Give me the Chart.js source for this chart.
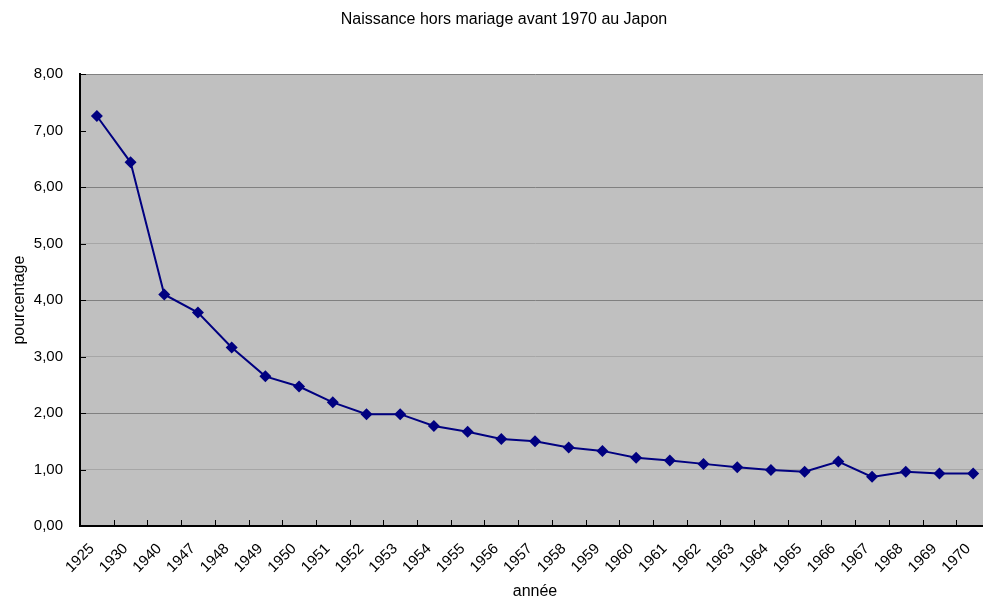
<!DOCTYPE html>
<html>
<head>
<meta charset="utf-8">
<title>Naissance hors mariage avant 1970 au Japon</title>
<script src="https://cdn.jsdelivr.net/npm/chart.js@4"></script>
<style>
  html, body { margin: 0; padding: 0; background: #fff; overflow: hidden; }
  #wrap { width: 1000px; height: 601px; }
</style>
</head>
<body>
<div id="wrap"><canvas id="chart" width="1000" height="601"></canvas></div>
<script>
const years = ['1925', '1930', '1940', '1947', '1948', '1949', '1950', '1951', '1952', '1953',
    '1954', '1955', '1956', '1957', '1958', '1959', '1960', '1961', '1962', '1963',
    '1964', '1965', '1966', '1967', '1968', '1969', '1970'];
const pourcentage = [7.26, 6.44, 4.10, 3.78, 3.16, 2.65, 2.47, 2.19, 1.98, 1.98,
    1.77, 1.67, 1.54, 1.50, 1.39, 1.33, 1.21, 1.16, 1.10, 1.04,
    0.99, 0.96, 1.14, 0.87, 0.96, 0.93, 0.93];
const yTicks = [0, 1, 2, 3, 4, 5, 6, 7, 8];

const font = 'Arial, "Liberation Sans", sans-serif';

// grey plot area, like the spreadsheet default
const plotBg = {
    id: 'plotBg',
    beforeDraw(chart) {
        const a = chart.chartArea;
        const ctx = chart.ctx;
        ctx.save();
        ctx.fillStyle = '#c0c0c0';
        ctx.fillRect(a.left, a.top, a.right - a.left, a.bottom - a.top);
        ctx.restore();
    }
};

// small tick marks pointing into the plot
const innerTicks = {
    id: 'innerTicks',
    afterDraw(chart) {
        const ctx = chart.ctx;
        const a = chart.chartArea;
        const x = chart.scales.x;
        const y = chart.scales.y;
        ctx.save();
        ctx.strokeStyle = '#000';
        ctx.lineWidth = 1;
        ctx.beginPath();
        for (let i = 1; i < years.length; i++) {
            const px = Math.round((x.getPixelForValue(i - 1) + x.getPixelForValue(i)) / 2) + 0.5;
            ctx.moveTo(px, a.bottom);
            ctx.lineTo(px, a.bottom - 6);
        }
        for (const v of yTicks) {
            const py = Math.round(y.getPixelForValue(v)) + 0.5;
            ctx.moveTo(a.left, py);
            ctx.lineTo(a.left + 6, py);
        }
        ctx.stroke();
        ctx.restore();
    }
};

new Chart(document.getElementById('chart'), {
    type: 'line',
    data: {
        labels: years,
        datasets: [{
            label: 'pourcentage',
            data: pourcentage,
            borderColor: '#000080',
            backgroundColor: '#000080',
            borderWidth: 2,
            pointStyle: 'rectRot',
            pointRadius: 6,
            pointBorderWidth: 0,
            tension: 0
        }]
    },
    options: {
        responsive: false,
        animation: false,
        layout: { padding: { left: 10, right: 2, top: 0, bottom: 0 } },
        plugins: {
            legend: { display: false },
            tooltip: { enabled: false },
            title: {
                display: true,
                text: 'Naissance hors mariage avant 1970 au Japon',
                color: '#000',
                font: { family: font, size: 16, weight: 'normal' },
                padding: { top: 10, bottom: 45 }
            }
        },
        scales: {
            x: {
                offset: true,
                grid: { display: false, drawTicks: false },
                border: { display: true, color: '#000', width: 2 },
                ticks: {
                    color: '#000',
                    font: { family: font, size: 15 },
                    minRotation: 45,
                    maxRotation: 45,
                    autoSkip: false,
                    padding: 14,
                    labelOffset: -5
                },
                title: {
                    display: true,
                    text: 'année',
                    color: '#000',
                    font: { family: font, size: 16 },
                    padding: { top: 0, bottom: 0 }
                },
                afterFit(scale) { scale.height = 75; }
            },
            y: {
                min: 0,
                max: 8,
                afterBuildTicks(scale) { scale.ticks = yTicks.map(v => ({ value: v })); },
                grid: {
                    drawTicks: false,
                    lineWidth: 1,
                    color(ctx) {
                        const v = ctx.tick ? ctx.tick.value : 0;
                        if (v === 7 || v === 0) return 'rgba(0,0,0,0)';
                        return (v % 2 === 0) ? '#808080' : '#a6a6a6';
                    }
                },
                border: { display: true, color: '#000', width: 2 },
                ticks: {
                    color: '#000',
                    font: { family: font, size: 15 },
                    padding: 17,
                    callback: v => v.toFixed(2).replace('.', ',')
                },
                title: {
                    display: true,
                    text: 'pourcentage',
                    color: '#000',
                    font: { family: font, size: 16 },
                    padding: { top: 0, bottom: 0 }
                },
                afterFit(scale) { scale.width = 70; }
            }
        }
    },
    plugins: [plotBg, innerTicks]
});
</script>
</body>
</html>
